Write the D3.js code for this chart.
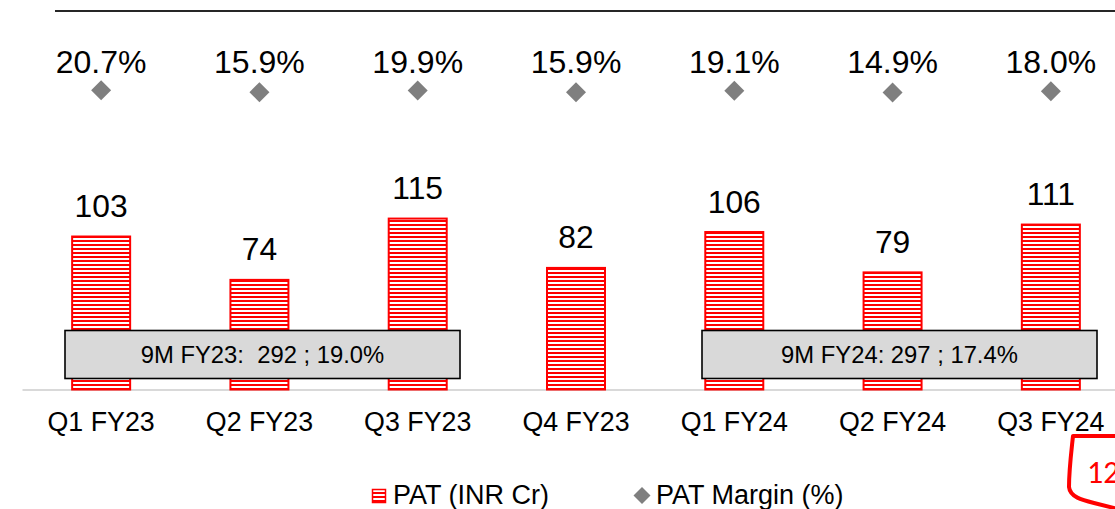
<!DOCTYPE html>
<html>
<head>
<meta charset="utf-8">
<script src="https://cdn.jsdelivr.net/npm/d3@7"></script>
<style>
  html, body { margin: 0; padding: 0; background: #fff; }
  svg { display: block; font-family: "Liberation Sans", Arial, sans-serif; }
  text { white-space: pre; }
</style>
</head>
<body>
<svg id="chart" width="1115" height="509"></svg>
<script>
// Quarterly profit after tax and margin
const quarters = ["Q1 FY23", "Q2 FY23", "Q3 FY23", "Q4 FY23", "Q1 FY24", "Q2 FY24", "Q3 FY24"];
const patValues = [103, 74, 115, 82, 106, 79, 111];
const marginValues = [20.7, 15.9, 19.9, 15.9, 19.1, 14.9, 18.0];
const summaryLabels = ["9M FY23:  292 ; 19.0%", "9M FY24: 297 ; 17.4%"];
const legendLabels = ["PAT (INR Cr)", "PAT Margin (%)"];
const pageNumber = "12";

const svg = d3.select("#chart");
const baseY = 389.5;

const x = d3.scaleBand().domain(quarters).range([22, 1130]).padding(0);
const y = d3.scaleLinear().domain([0, 100]).range([baseY, baseY - 149.5]);
// secondary axis for the margin series, spread wide so markers sit in a row
const yM = d3.scaleLinear().domain([0, 100]).range([98.5, 58.5]);

const barW = 60;
const cx = d => x(d) + x.bandwidth() / 2;
const diamond = r => `M0,${-r}L${r},0L0,${r}L${-r},0Z`;

// striped fill for the PAT bars
const defs = svg.append("defs");
const pat = defs.append("pattern")
  .attr("id", "stripes").attr("patternUnits", "userSpaceOnUse")
  .attr("width", 8).attr("height", 4);
pat.append("rect").attr("width", 8).attr("height", 4).attr("fill", "#fff");
pat.append("rect").attr("y", 0).attr("width", 8).attr("height", 2).attr("fill", "#ff0000");

// header rule
svg.append("line").attr("x1", 55).attr("x2", 1115).attr("y1", 11).attr("y2", 11)
  .attr("stroke", "#262626").attr("stroke-width", 2);

// category axis
const xAxis = d3.axisBottom(x).tickSize(0).tickPadding(0);
const gx = svg.append("g").attr("transform", `translate(0,${baseY})`).call(xAxis);
gx.select(".domain").attr("stroke", "#d9d9d9").attr("stroke-width", 2);
gx.selectAll("text").attr("font-size", 26.8).attr("fill", "#000")
  .attr("font-family", "'Liberation Sans', Arial, sans-serif")
  .attr("dy", null).attr("y", 41.5);

// bars
svg.append("g").selectAll("rect").data(quarters).join("rect")
  .attr("x", d => cx(d) - barW / 2 + 1)
  .attr("width", barW - 2)
  .attr("y", (d, i) => y(patValues[i]) + 1)
  .attr("height", (d, i) => baseY - y(patValues[i]) - 1)
  .attr("fill", "url(#stripes)")
  .attr("stroke", "#ff0000").attr("stroke-width", 2);

// bar value labels
svg.append("g").selectAll("text").data(quarters).join("text")
  .attr("x", d => cx(d)).attr("y", (d, i) => y(patValues[i]) - 18.5)
  .attr("text-anchor", "middle").attr("font-size", 31.8).attr("fill", "#000")
  .text((d, i) => patValues[i]);

// margin markers
svg.append("g").selectAll("path").data(quarters).join("path")
  .attr("d", diamond(10))
  .attr("transform", (d, i) => `translate(${cx(d)},${yM(marginValues[i])})`)
  .attr("fill", "#7f7f7f");

// margin labels
svg.append("g").selectAll("text").data(quarters).join("text")
  .attr("x", d => cx(d)).attr("y", 73)
  .attr("text-anchor", "middle").attr("font-size", 32).attr("fill", "#000")
  .text((d, i) => marginValues[i].toFixed(1) + "%");

// nine-month summary boxes
const boxes = [
  { label: summaryLabels[0], x0: 65, x1: 460 },
  { label: summaryLabels[1], x0: 702, x1: 1097 }
];
const gb = svg.append("g").selectAll("g").data(boxes).join("g");
gb.append("rect")
  .attr("x", d => d.x0).attr("y", 330.5)
  .attr("width", d => d.x1 - d.x0).attr("height", 48)
  .attr("fill", "#d9d9d9").attr("stroke", "#000").attr("stroke-width", 1.6);
gb.append("text")
  .attr("x", d => (d.x0 + d.x1) / 2).attr("y", 363)
  .attr("text-anchor", "middle").attr("font-size", 23.8).attr("fill", "#000")
  .attr("xml:space", "preserve")
  .text(d => d.label);

// legend
const lg = svg.append("g");
lg.append("rect").attr("x", 372.5).attr("y", 489.5).attr("width", 13).attr("height", 13)
  .attr("fill", "url(#stripes)").attr("stroke", "#ff0000").attr("stroke-width", 1.5);
lg.append("text").attr("x", 393).attr("y", 504).attr("font-size", 27).attr("fill", "#000")
  .text(legendLabels[0]);
lg.append("path").attr("d", diamond(8.5))
  .attr("transform", "translate(642,495.5)").attr("fill", "#7f7f7f");
lg.append("text").attr("x", 656).attr("y", 504).attr("font-size", 27).attr("fill", "#000")
  .text(legendLabels[1]);

// page tab
svg.append("path")
  .attr("d", "M1118,436 L1073,436 C1071,455 1069,470 1069,487 C1070,497 1082,500 1094,503 L1118,509")
  .attr("fill", "none").attr("stroke", "#ff0000").attr("stroke-width", 4).attr("stroke-linejoin", "round");
svg.append("text").attr("x", 1087).attr("y", 483).attr("font-size", 32)
  .attr("font-family", "Carlito, 'Open Sans', sans-serif").attr("fill", "#ff0000")
  .text(pageNumber);
</script>
</body>
</html>
